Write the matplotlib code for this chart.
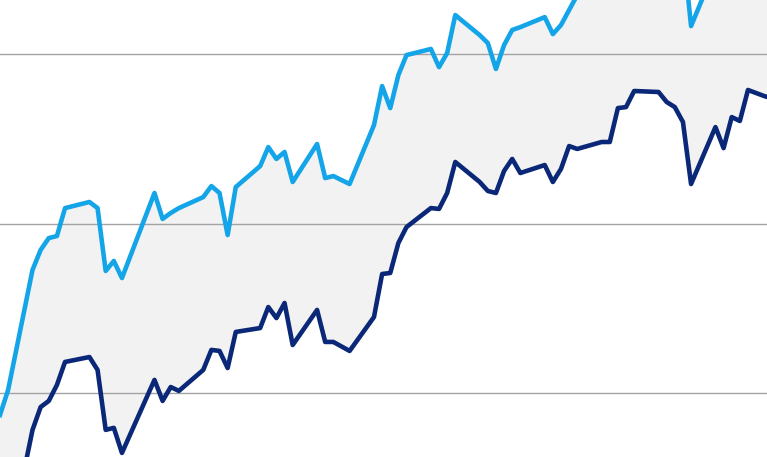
import numpy as np
import matplotlib
matplotlib.use("Agg")
import matplotlib.pyplot as plt

# period index (monthly steps) and the two series
period = [0, 1, 4, 5, 6, 7, 8, 11, 12, 13, 14, 15, 19, 20, 21, 22, 25, 26, 27, 28,
          29, 32, 33, 34, 35, 36, 39, 40, 41, 43, 46, 47, 48, 49, 50, 53, 54, 55, 56,
          59, 60, 61, 62, 63, 64, 67, 68, 69, 70, 71, 74, 75, 76, 77, 78, 81, 82, 83,
          84, 85, 88, 89, 90, 91, 92, 94, 95]

upper = [87.0, 101.8, 172.6, 184.4, 191.4, 192.6, 209.1, 212.7, 209.1, 172.0,
         177.9, 167.8, 218.0, 202.7, 206.2, 209.1, 215.6, 222.1, 218.0, 193.2,
         221.5, 233.9, 245.1, 238.1, 242.2, 224.5, 246.9, 226.8, 228.0, 223.3,
         258.1, 281.1, 268.1, 287.6, 299.4, 303.0, 292.3, 300.6, 323.0,
         311.2, 306.5, 291.2, 305.3, 314.2, 315.9, 321.8, 311.8, 317.1, 326.0, 334.8,
         337.8, 338.9, 355.5, 356.6, 366.1, 366.1, 360.2, 358.4,
         363.1, 316.5, 351.3, 343.7, 355.5, 353.1, 370.8, 367.3, 366.0]

lower = [1.5, 8.6, 78.2, 91.7, 95.3, 104.7, 118.3, 121.2, 113.6, 78.2,
         79.4, 64.6, 107.7, 95.3, 103.5, 101.2, 113.6, 125.4, 124.8, 114.7,
         136.0, 138.3, 150.7, 144.2, 153.1, 128.3, 149.0, 130.1, 130.1, 124.8,
         144.8, 170.2, 170.8, 188.5, 197.9, 209.1, 208.6, 218.0, 236.3,
         224.5, 219.2, 218.0, 231.0, 238.1, 229.8, 234.5, 224.5, 232.2, 245.7, 244.0,
         248.1, 248.1, 268.1, 268.7, 278.2, 277.6, 271.7, 268.7,
         259.9, 223.3, 256.9, 244.5, 262.8, 260.5, 278.8, 275.2, 273.8]

gridlines = [100, 200, 300]

fig = plt.figure(figsize=(7.67, 4.57), dpi=100)
ax = fig.add_axes([0, 0, 1, 1])

ax.fill_between(period, lower, upper, color="#F2F2F2", linewidth=0, zorder=1)
for g in gridlines:
    ax.axhline(g, color="#A3A3A3", linewidth=1.0, zorder=2)

ax.plot(period, upper, color="#14A5E9", linewidth=3.3, zorder=3)
ax.plot(period, lower, color="#0A2877", linewidth=3.3, zorder=4)

ax.set_xlim(0, 94.34)
ax.set_ylim(62.2, 331.9)
ax.axis("off")

fig.savefig("out.png", dpi=100)
